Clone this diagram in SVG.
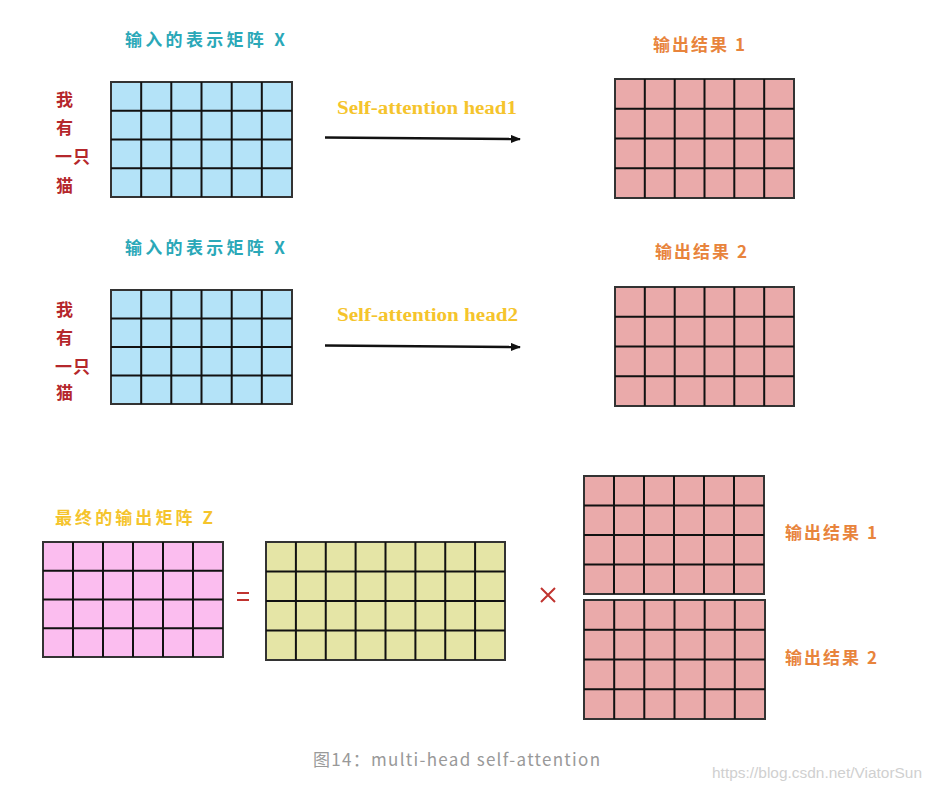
<svg xmlns="http://www.w3.org/2000/svg" width="936" height="791" viewBox="0 0 936 791">
<defs>
<marker id="ah" markerWidth="10" markerHeight="8" refX="9" refY="4" orient="auto" markerUnits="userSpaceOnUse">
<path d="M0,0 L10,4 L0,8 Z" fill="#111"/>
</marker>
<style>
.frame{stroke:#333;stroke-width:2}
.grid{stroke:#111;stroke-width:2;fill:none}
.blue{fill:#b4e3f8}
.pink{fill:#eaaaaa}
.mag{fill:#fbbdef}
.yel{fill:#e5e5a6}
.cjk{font-family:"Noto Sans CJK SC","Noto Sans",sans-serif;font-weight:bold}
.teal{fill:#2aa8b8;font-size:17px}
.orange{fill:#e8843c;font-size:17px}
.gold{fill:#f5c42c;font-size:17px}
.red{fill:#b5272c;font-size:17px}
.head{font-family:"Liberation Serif","DejaVu Serif",serif;font-weight:bold;font-size:18px;fill:#f5c42c}
.conn{stroke:#111;stroke-width:2.5;fill:none}
</style>
</defs>
<rect width="936" height="791" fill="#ffffff"/>

<g id="labels-row1">
<text class="cjk teal" x="125" y="46" textLength="160" lengthAdjust="spacing">输入的表示矩阵 X</text>
<text class="cjk red" x="56" y="106">我</text>
<text class="cjk red" x="56" y="134">有</text>
<text class="cjk red" x="55" y="163" textLength="35" lengthAdjust="spacing">一只</text>
<text class="cjk red" x="56" y="192">猫</text>
<text class="cjk orange" x="653" y="51" textLength="92" lengthAdjust="spacing">输出结果 1</text>
<text class="head" x="337" y="114" textLength="180" lengthAdjust="spacingAndGlyphs">Self-attention head1</text>
</g>

<g id="matrix-x1">
<rect class="blue frame" x="111" y="82" width="181" height="115"/>
<path class="grid" d="M141.2,82V197M171.3,82V197M201.5,82V197M231.7,82V197M261.8,82V197M111,110.75H292M111,139.5H292M111,168.25H292"/>
</g>

<g id="matrix-out1">
<rect class="pink frame" x="615" y="79" width="179" height="119"/>
<path class="grid" d="M644.8,79V198M674.7,79V198M704.5,79V198M734.3,79V198M764.2,79V198M615,108.75H794M615,138.5H794M615,168.25H794"/>
</g>

<g id="labels-row2">
<text class="cjk teal" x="125" y="254" textLength="160" lengthAdjust="spacing">输入的表示矩阵 X</text>
<text class="cjk red" x="56" y="316">我</text>
<text class="cjk red" x="56" y="344">有</text>
<text class="cjk red" x="55" y="373" textLength="35" lengthAdjust="spacing">一只</text>
<text class="cjk red" x="56" y="399">猫</text>
<text class="cjk orange" x="655" y="258" textLength="92" lengthAdjust="spacing">输出结果 2</text>
<text class="head" x="337" y="321" textLength="181" lengthAdjust="spacingAndGlyphs">Self-attention head2</text>
</g>

<g id="matrix-x2">
<rect class="blue frame" x="111" y="290" width="181" height="114"/>
<path class="grid" d="M141.2,290V404M171.3,290V404M201.5,290V404M231.7,290V404M261.8,290V404M111,318.5H292M111,347H292M111,375.5H292"/>
</g>

<g id="matrix-out2">
<rect class="pink frame" x="615" y="287" width="179" height="119"/>
<path class="grid" d="M644.8,287V406M674.7,287V406M704.5,287V406M734.3,287V406M764.2,287V406M615,316.75H794M615,346.5H794M615,376.25H794"/>
</g>

<g id="connectors">
<path class="conn" d="M325,137.5 L520,139" marker-end="url(#ah)"/>
<path class="conn" d="M325,345.5 L520,347" marker-end="url(#ah)"/>
</g>

<g id="matrix-z">
<text class="cjk gold" x="55" y="524" textLength="158" lengthAdjust="spacing">最终的输出矩阵 Z</text>
<rect class="mag frame" x="43" y="542" width="180" height="115"/>
<path class="grid" d="M73,542V657M103,542V657M133,542V657M163,542V657M193,542V657M43,570.75H223M43,599.5H223M43,628.25H223"/>
</g>

<g id="equals">
<path d="M237,593H249M237,600H249" stroke="#c0332f" stroke-width="2"/>
</g>

<g id="matrix-w">
<rect class="yel frame" x="266" y="542" width="239" height="118"/>
<path class="grid" d="M295.9,542V660M325.75,542V660M355.6,542V660M385.5,542V660M415.4,542V660M445.25,542V660M475.1,542V660M266,571.5H505M266,601H505M266,630.5H505"/>
</g>

<g id="times">
<path d="M541,588L555,602M555,588L541,602" stroke="#c0332f" stroke-width="2"/>
</g>

<g id="matrix-concat1">
<rect class="pink frame" x="584" y="476" width="180" height="118"/>
<path class="grid" d="M614,476V594M644,476V594M674,476V594M704,476V594M734,476V594M584,505.5H764M584,535H764M584,564.5H764"/>
<text class="cjk orange" x="785" y="539" textLength="92" lengthAdjust="spacing">输出结果 1</text>
</g>

<g id="matrix-concat2">
<rect class="pink frame" x="584" y="600" width="181" height="119"/>
<path class="grid" d="M614.2,600V719M644.3,600V719M674.5,600V719M704.7,600V719M734.8,600V719M584,629.75H765M584,659.5H765M584,689.25H765"/>
<text class="cjk orange" x="785" y="664" textLength="92" lengthAdjust="spacing">输出结果 2</text>
</g>

<g id="caption">
<text x="313" y="766" font-family="Noto Sans CJK SC, Noto Sans, sans-serif" font-size="17" fill="#999" textLength="287" lengthAdjust="spacing">图14：multi-head self-attention</text>
<text x="712" y="778" font-family="Liberation Sans, sans-serif" font-size="14" fill="#d0d0d0" textLength="210" lengthAdjust="spacingAndGlyphs">https://blog.csdn.net/ViatorSun</text>
</g>
</svg>
